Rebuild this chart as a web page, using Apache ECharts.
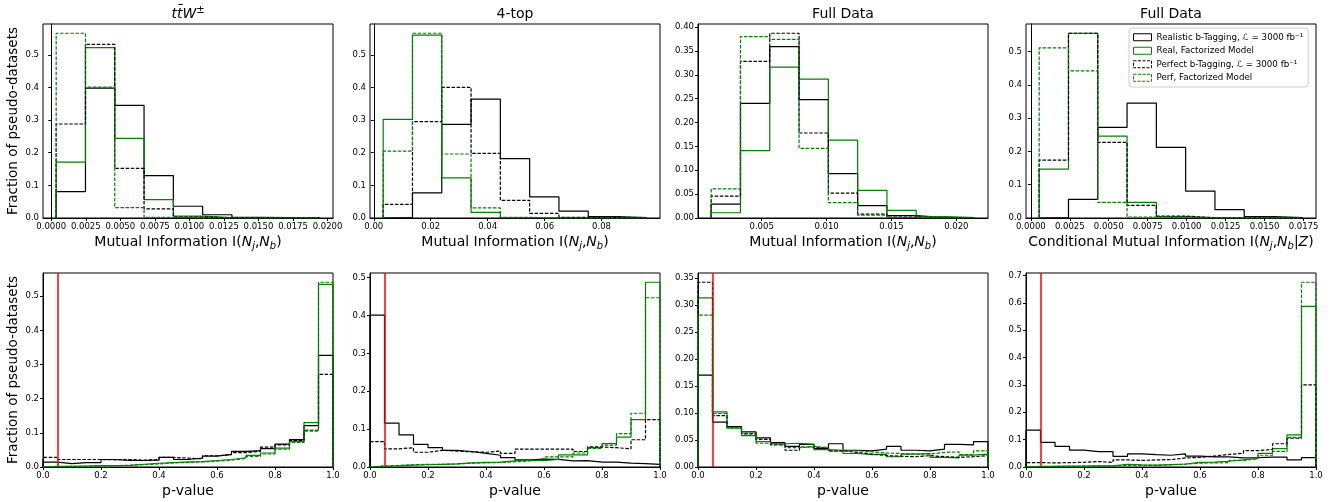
<!DOCTYPE html>
<html>
<head>
<meta charset="utf-8">
<script src="https://cdn.jsdelivr.net/npm/echarts@6/dist/echarts.min.js"></script>
<style>
  html, body { margin: 0; padding: 0; background: #fff; }
  #chart { width: 1337px; height: 502px; }
</style>
</head>
<body>
<div id="chart"></div>
<script>
// ---- series names (legend) ----
const NAME_REAL = 'Realistic b-Tagging, ℒ = 3000 fb⁻¹';
const NAME_REAL_FACT = 'Real, Factorized Model';
const NAME_PERF = 'Perfect b-Tagging, ℒ = 3000 fb⁻¹';
const NAME_PERF_FACT = 'Perf, Factorized Model';

// ---- top row: mutual information histograms (bin edges + fractions) ----
const ttwEdges = [0.00036, 0.00248, 0.00460, 0.00672, 0.00884, 0.01096, 0.01308, 0.01520, 0.01732, 0.01944];
const ttwReal = [0.081, 0.398, 0.345, 0.130, 0.036, 0.010, 0.002, 0.001, 0.0005];
const ttwRealFact = [0.171, 0.522, 0.244, 0.056, 0.006, 0.001, 0, 0, 0];
const ttwPerf = [0.288, 0.532, 0.152, 0.028, 0.003, 0.0005, 0, 0, 0];
const ttwPerfFact = [0.566, 0.401, 0.032, 0.002, 0, 0, 0, 0, 0];

const fourEdges = [0.0033, 0.01359, 0.02388, 0.03417, 0.04446, 0.05475, 0.06504, 0.07533, 0.08562, 0.09591];
const fourReal = [0.001, 0.077, 0.287, 0.364, 0.182, 0.065, 0.021, 0.004, 0.001];
const fourRealFact = [0.302, 0.560, 0.123, 0.017, 0.001, 0, 0, 0, 0];
const fourPerf = [0.042, 0.295, 0.400, 0.198, 0.054, 0.014, 0.002, 0.001, 0];
const fourPerfFact = [0.205, 0.566, 0.196, 0.031, 0.002, 0, 0, 0, 0];

const fullEdges = [0.00111, 0.003367, 0.005624, 0.007881, 0.010138, 0.012395, 0.014652, 0.016909, 0.019166, 0.021423];
const fullReal = [0.029, 0.240, 0.359, 0.248, 0.093, 0.026, 0.005, 0.001, 0];
const fullRealFact = [0.011, 0.141, 0.316, 0.291, 0.163, 0.058, 0.016, 0.003, 0.001];
const fullPerf = [0.046, 0.328, 0.387, 0.178, 0.052, 0.008, 0.002, 0, 0];
const fullPerfFact = [0.061, 0.380, 0.374, 0.146, 0.032, 0.006, 0.001, 0, 0];

const condEdges = [0.000536, 0.002416, 0.004296, 0.006176, 0.008056, 0.009936, 0.011816, 0.013696, 0.015576, 0.017456];
const condReal = [0.001, 0.056, 0.272, 0.345, 0.212, 0.081, 0.025, 0.004, 0.001];
const condRealFact = [0.147, 0.555, 0.246, 0.047, 0.004, 0.001, 0, 0, 0];
const condPerf = [0.174, 0.555, 0.227, 0.038, 0.006, 0, 0, 0, 0];
const condPerfFact = [0.511, 0.442, 0.047, 0.003, 0.001, 0, 0, 0, 0];

// ---- bottom row: p-value histograms ----
const pEdges = [0, 0.05, 0.1, 0.15, 0.2, 0.25, 0.3, 0.35, 0.4, 0.45, 0.5, 0.55, 0.6, 0.65, 0.7, 0.75, 0.8, 0.85, 0.9, 0.95, 1.0];

const ttwPReal = [0.014, 0.010, 0.013, 0.013, 0.022, 0.019, 0.019, 0.020, 0.028, 0.022, 0.026, 0.032, 0.037, 0.046, 0.048, 0.054, 0.067, 0.080, 0.121, 0.327];
const ttwPRealFact = [0.002, 0.002, 0.003, 0.004, 0.004, 0.005, 0.008, 0.011, 0.013, 0.015, 0.016, 0.019, 0.022, 0.027, 0.034, 0.041, 0.055, 0.075, 0.130, 0.535];
const ttwPPerf = [0.028, 0.022, 0.022, 0.022, 0.021, 0.022, 0.020, 0.022, 0.028, 0.026, 0.024, 0.033, 0.036, 0.042, 0.046, 0.058, 0.065, 0.078, 0.106, 0.271];
const ttwPPerfFact = [0.001, 0.002, 0.002, 0.003, 0.004, 0.005, 0.007, 0.009, 0.012, 0.013, 0.015, 0.017, 0.020, 0.025, 0.031, 0.038, 0.052, 0.072, 0.108, 0.541];

const fourPReal = [0.401, 0.116, 0.085, 0.060, 0.051, 0.044, 0.041, 0.036, 0.031, 0.025, 0.019, 0.021, 0.020, 0.016, 0.017, 0.013, 0.013, 0.010, 0.009, 0.007];
const fourPRealFact = [0.002, 0.003, 0.005, 0.006, 0.007, 0.008, 0.011, 0.012, 0.013, 0.016, 0.018, 0.017, 0.020, 0.032, 0.032, 0.051, 0.062, 0.079, 0.125, 0.488];
const fourPPerf = [0.067, 0.048, 0.051, 0.039, 0.044, 0.042, 0.040, 0.039, 0.042, 0.036, 0.047, 0.047, 0.047, 0.047, 0.041, 0.053, 0.051, 0.048, 0.072, 0.125];
const fourPPerfFact = [0.003, 0.004, 0.006, 0.007, 0.007, 0.008, 0.010, 0.011, 0.012, 0.014, 0.016, 0.018, 0.027, 0.027, 0.037, 0.049, 0.058, 0.088, 0.142, 0.447];

const fullPReal = [0.170, 0.083, 0.075, 0.065, 0.054, 0.045, 0.038, 0.042, 0.034, 0.043, 0.031, 0.030, 0.033, 0.038, 0.031, 0.030, 0.033, 0.042, 0.041, 0.047];
const fullPRealFact = [0.313, 0.102, 0.072, 0.058, 0.047, 0.043, 0.044, 0.042, 0.032, 0.031, 0.025, 0.023, 0.024, 0.019, 0.024, 0.025, 0.018, 0.017, 0.022, 0.024];
const fullPPerf = [0.342, 0.095, 0.074, 0.062, 0.051, 0.041, 0.031, 0.037, 0.035, 0.030, 0.027, 0.024, 0.021, 0.020, 0.019, 0.021, 0.019, 0.018, 0.019, 0.021];
const fullPPerfFact = [0.281, 0.099, 0.073, 0.061, 0.044, 0.041, 0.036, 0.038, 0.036, 0.029, 0.030, 0.028, 0.026, 0.025, 0.024, 0.024, 0.027, 0.028, 0.023, 0.030];

const condPReal = [0.135, 0.090, 0.075, 0.062, 0.056, 0.056, 0.039, 0.048, 0.045, 0.043, 0.048, 0.040, 0.037, 0.037, 0.033, 0.034, 0.036, 0.036, 0.026, 0.034];
const condPRealFact = [0.002, 0.002, 0.003, 0.003, 0.004, 0.004, 0.010, 0.008, 0.007, 0.009, 0.011, 0.017, 0.018, 0.021, 0.026, 0.032, 0.050, 0.067, 0.117, 0.587];
const condPPerf = [0.016, 0.015, 0.016, 0.017, 0.020, 0.017, 0.026, 0.024, 0.026, 0.027, 0.033, 0.035, 0.040, 0.046, 0.050, 0.060, 0.064, 0.085, 0.105, 0.300];
const condPPerfFact = [0.001, 0.002, 0.002, 0.003, 0.003, 0.004, 0.006, 0.006, 0.006, 0.008, 0.010, 0.014, 0.015, 0.016, 0.024, 0.030, 0.043, 0.057, 0.108, 0.675];

// ---- tick values ----
const ttwTicks = [0, 0.0025, 0.005, 0.0075, 0.01, 0.0125, 0.015, 0.0175, 0.02];
const fourTicks = [0, 0.02, 0.04, 0.06, 0.08];
const fullTicks = [0.005, 0.01, 0.015, 0.02];
const condTicks = [0, 0.0025, 0.005, 0.0075, 0.01, 0.0125, 0.015, 0.0175];
const pTicks = [0, 0.2, 0.4, 0.6, 0.8, 1.0];
const yTicksHalf = [0, 0.1, 0.2, 0.3, 0.4, 0.5];
const yTicksFull = [0, 0.05, 0.1, 0.15, 0.2, 0.25, 0.3, 0.35, 0.4];
const yTicksFullP = [0, 0.05, 0.1, 0.15, 0.2, 0.25, 0.3, 0.35];
const yTicksCondP = [0, 0.1, 0.2, 0.3, 0.4, 0.5, 0.6, 0.7];

const FONT = 'DejaVu Sans';
const TICK_FONT = 8.5;
const MI_NAME = '{n|Mutual Information I(}{i|N}{s|j}{n|,}{i|N}{s|b}{n|)}';
const CMI_NAME = '{n|Conditional Mutual Information I(}{i|N}{s|j}{n|,}{i|N}{s|b}{n|\u007c}{i|Z}{n|)}';

const panels = [
  { title: '{i|tt\u0304W}{s|±}', edges: ttwEdges, vals: [ttwReal, ttwRealFact, ttwPerf, ttwPerfFact],
    xTicks: ttwTicks, xDig: 4, yTicks: yTicksHalf, yDig: 1, xName: MI_NAME, margin: true },
  { title: '4-top', edges: fourEdges, vals: [fourReal, fourRealFact, fourPerf, fourPerfFact],
    xTicks: fourTicks, xDig: 2, yTicks: yTicksHalf, yDig: 1, xName: MI_NAME, margin: true },
  { title: 'Full Data', edges: fullEdges, vals: [fullReal, fullRealFact, fullPerf, fullPerfFact],
    xTicks: fullTicks, xDig: 3, yTicks: yTicksFull, yDig: 2, xName: MI_NAME, margin: true },
  { title: 'Full Data', edges: condEdges, vals: [condReal, condRealFact, condPerf, condPerfFact],
    xTicks: condTicks, xDig: 4, yTicks: yTicksHalf, yDig: 1, xName: CMI_NAME, margin: true },
  { edges: pEdges, vals: [ttwPReal, ttwPRealFact, ttwPPerf, ttwPPerfFact],
    xTicks: pTicks, xDig: 1, yTicks: yTicksHalf, yDig: 1, xName: 'p-value', cut: true },
  { edges: pEdges, vals: [fourPReal, fourPRealFact, fourPPerf, fourPPerfFact],
    xTicks: pTicks, xDig: 1, yTicks: yTicksHalf, yDig: 1, xName: 'p-value', cut: true },
  { edges: pEdges, vals: [fullPReal, fullPRealFact, fullPPerf, fullPPerfFact],
    xTicks: pTicks, xDig: 1, yTicks: yTicksFullP, yDig: 2, xName: 'p-value', cut: true },
  { edges: pEdges, vals: [condPReal, condPRealFact, condPPerf, condPPerfFact],
    xTicks: pTicks, xDig: 1, yTicks: yTicksCondP, yDig: 1, xName: 'p-value', cut: true },
];

const styles = [
  { name: NAME_REAL, color: '#000000', dash: false },
  { name: NAME_REAL_FACT, color: '#008000', dash: false },
  { name: NAME_PERF, color: '#000000', dash: true },
  { name: NAME_PERF_FACT, color: '#008000', dash: true },
];

const colLeft = [43, 370, 698, 1026];
const rowTop = [24, 273];
const W = 290, H = 194;

// outline of a step histogram, like matplotlib histtype='step'
function stepPoints(edges, vals) {
  const pts = [[edges[0], 0]];
  vals.forEach((v, i) => {
    pts.push([edges[i], v]);
    pts.push([edges[i + 1], v]);
  });
  pts.push([edges[edges.length - 1], 0]);
  return pts;
}

const nameRich = {
  n: { fontSize: 14, fontFamily: FONT, color: '#000', lineHeight: 20 },
  i: { fontSize: 14, fontFamily: FONT, fontStyle: 'italic', color: '#000', lineHeight: 20 },
  s: { fontSize: 10, fontFamily: FONT, fontStyle: 'italic', color: '#000', lineHeight: 10, verticalAlign: 'bottom' },
};

const grid = [], xAxis = [], yAxis = [], series = [], title = [];

panels.forEach((p, k) => {
  const col = k % 4, row = Math.floor(k / 4);
  grid.push({
    left: colLeft[col], top: rowTop[row], width: W, height: H,
    show: true, borderColor: '#000', borderWidth: 1, backgroundColor: 'transparent',
  });

  const e0 = p.edges[0], e1 = p.edges[p.edges.length - 1];
  const pad = p.margin ? (e1 - e0) * 0.05 : 0;
  const ymax = Math.max(...p.vals.map((v) => Math.max(...v))) * 1.05;

  xAxis.push({
    type: 'value', gridIndex: k, min: e0 - pad, max: e1 + pad,
    name: p.xName, nameLocation: 'middle', nameGap: 11,
    nameTextStyle: { fontSize: 14, fontFamily: FONT, color: '#000', lineHeight: 20, rich: nameRich },
    axisLine: { show: true, lineStyle: { color: '#000', width: 1 } },
    axisTick: { show: true, length: 3, lineStyle: { color: '#000' }, customValues: p.xTicks },
    axisLabel: {
      fontSize: TICK_FONT, fontFamily: FONT, color: '#000', margin: 4, customValues: p.xTicks,
      formatter: (v) => v.toFixed(p.xDig),
    },
    splitLine: { show: false },
  });

  yAxis.push({
    type: 'value', gridIndex: k, min: 0, max: ymax,
    name: col === 0 ? 'Fraction of pseudo-datasets' : '',
    nameLocation: 'middle', nameRotate: 90, nameGap: 23,
    nameTextStyle: { fontSize: 13.5, fontFamily: FONT, color: '#000' },
    axisLine: { show: true, lineStyle: { color: '#000', width: 1 } },
    axisTick: { show: true, length: 3, lineStyle: { color: '#000' }, customValues: p.yTicks },
    axisLabel: {
      fontSize: TICK_FONT, fontFamily: FONT, color: '#000', margin: 4, customValues: p.yTicks,
      formatter: (v) => v.toFixed(p.yDig),
    },
    splitLine: { show: false },
  });

  if (p.title) {
    title.push({
      text: p.title, left: colLeft[col] + W / 2, top: 5, padding: 0, textAlign: 'center',
      textStyle: {
        fontSize: 14, fontWeight: 'normal', fontFamily: FONT, color: '#000', lineHeight: 18,
        rich: {
          i: { fontSize: 14, fontFamily: FONT, fontStyle: 'italic', color: '#000', lineHeight: 18 },
          s: { fontSize: 10, fontFamily: FONT, color: '#000', lineHeight: 10, verticalAlign: 'top' },
        },
      },
    });
  }

  p.vals.forEach((v, j) => {
    const st = styles[j];
    const s = {
      name: st.name, type: 'line', xAxisIndex: k, yAxisIndex: k,
      data: stepPoints(p.edges, v), symbol: 'none', showSymbol: false,
      lineStyle: { color: st.color, width: 1.2, type: st.dash ? [3.5, 1.6] : 'solid' },
      itemStyle: { color: st.color },
      z: 2 + j,
    };
    if (p.cut && j === 3) {
      s.markLine = {
        silent: true, symbol: 'none', label: { show: false }, animation: false,
        lineStyle: { color: '#ff0000', width: 1.5, type: 'solid' },
        data: [{ xAxis: 0.05 }],
      };
    }
    series.push(s);
  });
});

const chart = echarts.init(document.getElementById('chart'));
chart.setOption({
  animation: false,
  backgroundColor: '#fff',
  title,
  grid,
  xAxis,
  yAxis,
  legend: {
    orient: 'vertical', left: 1129, top: 28, padding: [4, 5, 4, 4],
    itemWidth: 18, itemHeight: 7, itemGap: 3,
    backgroundColor: '#fff', borderColor: '#cccccc', borderWidth: 1, borderRadius: 3,
    selectedMode: false,
    textStyle: { fontFamily: FONT, fontSize: 8.7, color: '#000', lineHeight: 10.5 },
    data: styles.map((s) => ({
      name: s.name, icon: 'rect',
      itemStyle: { color: '#ffffff', borderColor: s.color, borderWidth: 1, borderType: s.dash ? [3, 1.5] : 'solid' },
    })),
  },
  series,
});
</script>
</body>
</html>
